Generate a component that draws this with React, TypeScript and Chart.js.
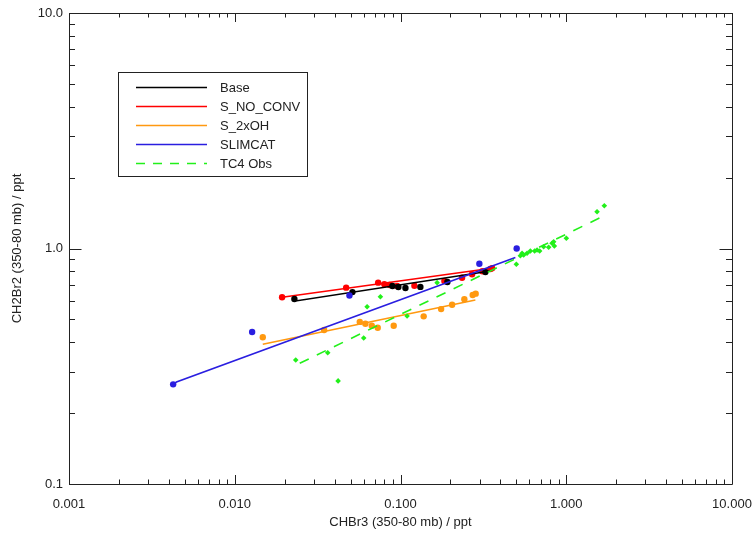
import React, { useEffect, useRef } from "react";
import { Chart, registerables } from "chart.js";
Chart.register(...registerables);

const xTickValues = [0.001, 0.01, 0.1, 1, 10];
const xTickLabels = ["0.001", "0.010", "0.100", "1.000", "10.000"];
const yTickValues = [0.1, 1, 10];
const yTickLabels = ["0.1", "1.0", "10.0"];

const seriesNames = ["Base", "S_NO_CONV", "S_2xOH", "SLIMCAT", "TC4 Obs"];
const seriesColors = ["#000000", "#ff0000", "#ff9910", "#2a1ee0", "#22f01a"];

// Base
const baseX = [0.0229, 0.0513, 0.0894, 0.0971, 0.1071, 0.1318, 0.1918, 0.3252];
const baseY = [0.61, 0.653, 0.693, 0.686, 0.68, 0.687, 0.721, 0.794];
const baseFitX = [0.0229, 0.0238, 0.3485];
const baseFitY = [0.612, 0.6, 0.803];

// S_NO_CONV
const noConvX = [0.0193, 0.047, 0.0733, 0.0799, 0.0861, 0.0954, 0.1213, 0.184, 0.2352, 0.2703, 0.3119, 0.3485, 0.3568];
const noConvY = [0.621, 0.682, 0.716, 0.705, 0.7, 0.693, 0.695, 0.728, 0.751, 0.777, 0.8, 0.818, 0.824];
const noConvFitX = [0.0193, 0.3633];
const noConvFitY = [0.621, 0.826];

// S_2xOH
const ohX = [0.01476, 0.0346, 0.0568, 0.0614, 0.0671, 0.0729, 0.091, 0.138, 0.1758, 0.2048, 0.2428, 0.2726, 0.2842];
const ohY = [0.42, 0.451, 0.488, 0.479, 0.47, 0.461, 0.47, 0.515, 0.553, 0.577, 0.609, 0.635, 0.643];
const ohFitX = [0.01476, 0.283];
const ohFitY = [0.392, 0.604];

// SLIMCAT
const slimX = [0.00425, 0.01273, 0.0492, 0.2991, 0.5022];
const slimY = [0.265, 0.442, 0.632, 0.862, 1.0];
const slimFitX = [0.00425, 0.00445, 0.4932];
const slimFitY = [0.265, 0.271, 0.916];

// TC4 Obs
const obsX = [0.02333, 0.03638, 0.04203, 0.05998, 0.06288, 0.07564, 0.1096, 0.1663, 0.5, 0.5413, 0.5287, 0.5535, 0.5802, 0.6074, 0.6447, 0.6666, 0.6912, 0.7306, 0.7831, 0.8211, 0.8476, 0.8395, 1.0014, 1.534, 1.697];
const obsY = [0.336, 0.361, 0.274, 0.417, 0.566, 0.624, 0.517, 0.716, 0.857, 0.954, 0.932, 0.938, 0.954, 0.976, 0.976, 0.986, 0.976, 1.018, 1.012, 1.052, 1.025, 1.068, 1.105, 1.433, 1.52];
const obsFitX = [0.02466, 1.697];
const obsFitY = [0.3255, 1.378];

const pts = (xs: number[], ys: number[]) => xs.map((x, i) => ({ x, y: ys[i] }));

const FONT = "'Liberation Sans', Arial, Helvetica, sans-serif";

const framePlugin = {
  id: "frameTicks",
  afterDraw(chart: any) {
    const { ctx, chartArea } = chart;
    const { left, right, top, bottom } = chartArea;
    const xs = chart.scales.x;
    const ys = chart.scales.y;
    ctx.save();
    ctx.strokeStyle = "#222";
    ctx.lineWidth = 1;
    ctx.beginPath();
    ctx.rect(Math.round(left) + 0.5, Math.round(top) + 0.5, Math.round(right - left), Math.round(bottom - top));
    ctx.stroke();
    ctx.beginPath();
    for (let d = -3; d <= 1; d++) {
      for (let m = 1; m <= 9; m++) {
        const v = m * Math.pow(10, d);
        if (v > 10.0001) break;
        const px = Math.round(xs.getPixelForValue(v)) + 0.5;
        const len = m === 1 ? 9 : 4.5;
        ctx.moveTo(px, bottom);
        ctx.lineTo(px, bottom - len);
        ctx.moveTo(px, top);
        ctx.lineTo(px, top + len);
      }
    }
    for (let d = -1; d <= 1; d++) {
      for (let m = 1; m <= 9; m++) {
        const v = m * Math.pow(10, d);
        if (v > 10.0001) break;
        const py = Math.round(ys.getPixelForValue(v)) + 0.5;
        const len = m === 1 ? 12.5 : 6;
        ctx.moveTo(left, py);
        ctx.lineTo(left + len, py);
        ctx.moveTo(right, py);
        ctx.lineTo(right - len, py);
      }
    }
    ctx.stroke();
    ctx.restore();
  },
};

const legendPlugin = {
  id: "boxLegend",
  afterDraw(chart: any) {
    const { ctx } = chart;
    ctx.save();
    const bx = 118.5, by = 72.5, bw = 189, bh = 104;
    ctx.fillStyle = "#ffffff";
    ctx.fillRect(bx, by, bw, bh);
    ctx.strokeStyle = "#222";
    ctx.lineWidth = 1;
    ctx.strokeRect(bx, by, bw, bh);
    ctx.font = `13px ${FONT}`;
    ctx.textBaseline = "middle";
    ctx.textAlign = "left";
    seriesNames.forEach((name, i) => {
      const y = 87.5 + i * 19;
      ctx.strokeStyle = seriesColors[i];
      ctx.lineWidth = 1.4;
      ctx.setLineDash(i === 4 ? [9, 8] : []);
      ctx.beginPath();
      ctx.moveTo(136, y);
      ctx.lineTo(207, y);
      ctx.stroke();
      ctx.setLineDash([]);
      ctx.fillStyle = "#222";
      ctx.fillText(name, 220, y + 1);
    });
    ctx.restore();
  },
};

export default function App() {
  const ref = useRef<HTMLCanvasElement | null>(null);
  useEffect(() => {
    document.body.style.margin = "0";
    if (!ref.current) return;
    const lineDs = (xs: number[], ys: number[], color: string, dash: number[] = []) => ({
      data: pts(xs, ys),
      showLine: true,
      borderColor: color,
      backgroundColor: color,
      borderWidth: 1.6,
      borderDash: dash,
      pointRadius: 0,
      pointHoverRadius: 0,
      tension: 0,
    });
    const dotDs = (xs: number[], ys: number[], color: string, style: string = "circle", r = 3.2) => ({
      data: pts(xs, ys),
      showLine: false,
      borderColor: color,
      backgroundColor: color,
      borderWidth: 0,
      pointRadius: r,
      pointStyle: style,
    });
    const chart = new Chart(ref.current, {
      type: "scatter",
      data: {
        datasets: [
          lineDs(obsFitX, obsFitY, seriesColors[4], [10, 9]),
          dotDs(obsX, obsY, seriesColors[4], "rectRot", 2.8),
          lineDs(slimFitX, slimFitY, seriesColors[3]),
          dotDs(slimX, slimY, seriesColors[3]),
          lineDs(ohFitX, ohFitY, seriesColors[2]),
          dotDs(ohX, ohY, seriesColors[2]),
          lineDs(baseFitX, baseFitY, seriesColors[0]),
          dotDs(baseX, baseY, seriesColors[0]),
          lineDs(noConvFitX, noConvFitY, seriesColors[1]),
          dotDs(noConvX, noConvY, seriesColors[1]),
        ] as any,
      },
      options: {
        animation: false,
        responsive: true,
        maintainAspectRatio: false,
        layout: { padding: { top: 13, right: 23, left: 0, bottom: 0 } },
        plugins: { legend: { display: false }, tooltip: { enabled: false } },
        scales: {
          x: {
            type: "logarithmic",
            position: "bottom",
            min: 0.001,
            max: 10,
            grid: { display: false, drawTicks: false },
            border: { display: false },
            afterBuildTicks: (s: any) => {
              s.ticks = xTickValues.map((v) => ({ value: v }));
            },
            afterFit: (s: any) => {
              s.height = 49;
              s.paddingLeft = 0;
              s.paddingRight = 0;
            },
            ticks: {
              autoSkip: false,
              maxRotation: 0,
              padding: 13,
              color: "#222",
              font: { family: FONT, size: 13 },
              callback: (_v: any, i: number) => xTickLabels[i],
            },
            title: {
              display: true,
              text: "CHBr3 (350-80 mb) / ppt",
              color: "#222",
              font: { family: FONT, size: 13 },
              padding: { top: 0, bottom: 3 },
            },
          },
          y: {
            type: "logarithmic",
            position: "left",
            min: 0.1,
            max: 10,
            grid: { display: false, drawTicks: false },
            border: { display: false },
            afterBuildTicks: (s: any) => {
              s.ticks = yTickValues.map((v) => ({ value: v }));
            },
            afterFit: (s: any) => {
              s.width = 69;
              s.paddingTop = 0;
              s.paddingBottom = 0;
            },
            ticks: {
              autoSkip: false,
              padding: 6,
              color: "#222",
              font: { family: FONT, size: 13 },
              callback: (_v: any, i: number) => yTickLabels[i],
            },
            title: {
              display: true,
              text: "CH2Br2 (350-80 mb) / ppt",
              color: "#222",
              font: { family: FONT, size: 13 },
              padding: { top: 10, bottom: 0 },
            },
          },
        },
      } as any,
      plugins: [framePlugin, legendPlugin],
    });
    return () => chart.destroy();
  }, []);
  return (
    <div style={{ width: 755, height: 533, position: "relative" }}>
      <canvas ref={ref} />
    </div>
  );
}
